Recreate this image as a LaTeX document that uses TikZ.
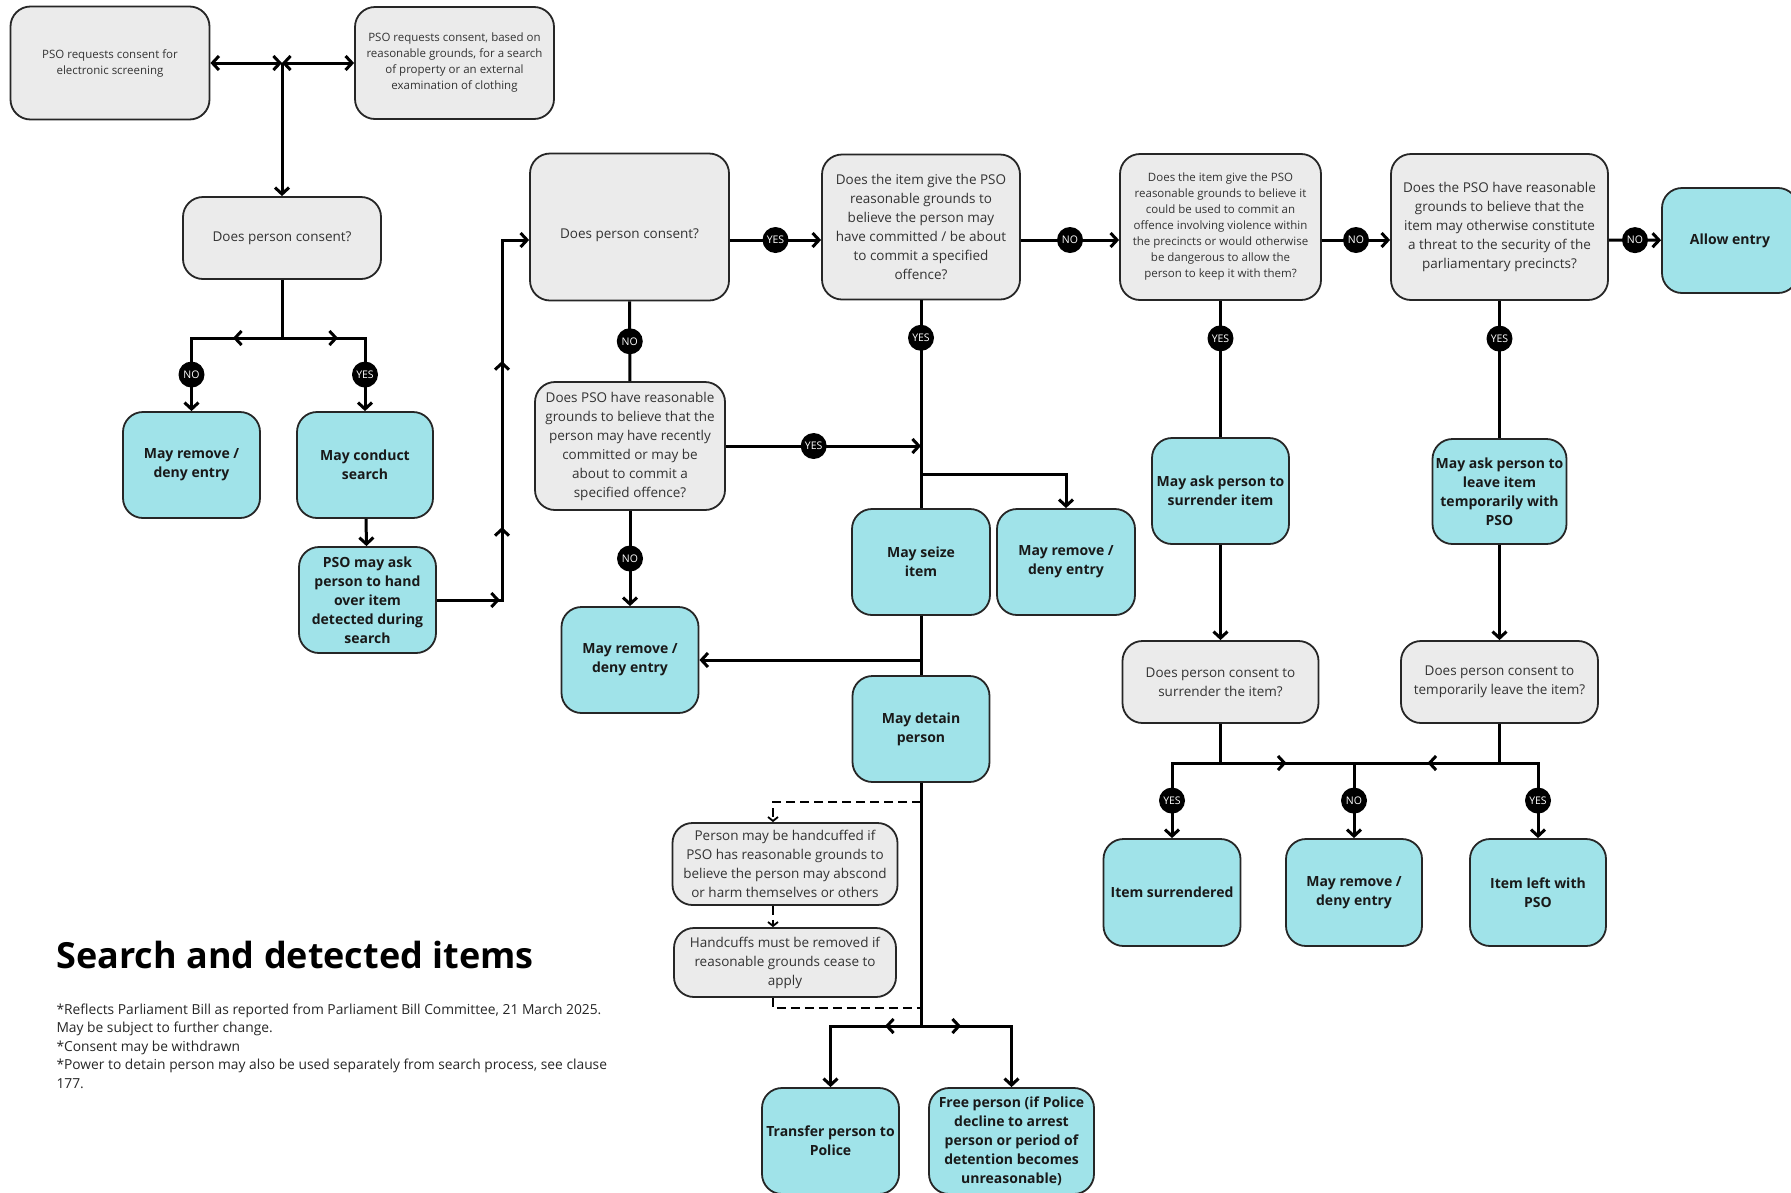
\documentclass[tikz,border=0pt]{standalone}
\usepackage{fontspec}
\setmainfont{Open Sans}
\usetikzlibrary{arrows.meta,decorations.markings}
\definecolor{actfill}{HTML}{A0E3E9}
\definecolor{askfill}{HTML}{EBEBEB}
\definecolor{boxline}{HTML}{262626}
\newcommand{\askfont}{\fontsize{13.5}{19}\selectfont}
\newcommand{\actfont}{\fontsize{14}{19}\selectfont\bfseries}
\newcommand{\smallask}{\fontsize{11.5}{16}\selectfont}
\newcommand{\notefont}{\fontsize{13.8}{18.5}\selectfont}

\begin{document}
\begin{tikzpicture}[x=1pt, y=-1pt,
  >={Straight Barb[length=6.5pt,width=14pt]},
  line width=3pt,
  ask/.style={draw=boxline, line width=1.8pt, fill=askfill, rounded corners=20pt,
    align=center, inner sep=2pt, font=\askfont, text=black!80},
  act/.style={ask, fill=actfill, font=\actfont, text=black!90},
  sz/.style 2 args={minimum width=#1pt, minimum height=#2pt},
  lbl/.style={circle, fill=black, text=white, inner sep=0pt, minimum size=26pt,
    font=\fontsize{10.5}{10.5}\selectfont},
  midtip/.style={postaction={decorate,
    decoration={markings, mark=at position #1 with {\arrow{>}}}}},
  cuffline/.style={line width=1.8pt, dash pattern=on 9pt off 5pt},
  cufftip/.style={-{Straight Barb[length=4pt,width=10pt]}}
  ]
  \useasboundingbox (0,0) rectangle (1791,1192);
  \fill[white] (0,0) rectangle (1791,1192);

  % requests and first consent
  \node[ask, sz={199}{113}, font=\smallask] (scr) at (110,63) {PSO requests consent for\\electronic screening};
  \node[ask, sz={199}{112}, font=\smallask] (req) at (454.5,63) {PSO requests consent, based on\\reasonable grounds, for a search\\of property or an external\\examination of clothing};
  \node[ask, sz={198}{82}] (cons1) at (282,238) {Does person consent?};
  \node[act, sz={137}{106}] (deny1) at (191.5,465) {May remove /\\deny entry};
  \node[act, sz={136}{106}] (search) at (365,465) {May conduct\\search};
  \node[act, sz={137}{106}] (handover) at (367.5,600) {PSO may ask\\person to hand\\over item\\detected during\\search};

  % top row of questions
  \node[ask, sz={199}{147}] (cons2) at (629.5,227) {\raisebox{-11pt}[0pt][0pt]{Does person consent?}};
  \node[ask, sz={198}{145}] (offq) at (921,227) {Does the item give the PSO\\reasonable grounds to\\believe the person may\\have committed / be about\\to commit a specified\\offence?};
  \node[ask, sz={201}{146}, font=\smallask] (violq) at (1220.5,227) {Does the item give the PSO\\reasonable grounds to believe it\\could be used to commit an\\offence involving violence within\\the precincts or would otherwise\\be dangerous to allow the\\person to keep it with them?};
  \node[ask, sz={217}{146}] (threatq) at (1499.5,227) {Does the PSO have reasonable\\grounds to believe that the\\item may otherwise constitute\\a threat to the security of the\\parliamentary precincts?};
  \node[act, sz={136}{105}] (allow) at (1730,240.5) {Allow entry};

  % offence branch
  \node[ask, sz={190}{128}] (recentq) at (630,446) {Does PSO have reasonable\\grounds to believe that the\\person may have recently\\committed or may be\\about to commit a\\specified offence?};
  \node[act, sz={138}{106}] (seize) at (921,562) {May seize\\item};
  \node[act, sz={138}{106}] (deny2) at (1066,562) {May remove /\\deny entry};
  \node[act, sz={137}{106}] (deny3) at (630,660) {May remove /\\deny entry};
  \node[act, sz={137}{106}] (detain) at (921,729) {May detain\\person};
  \node[ask, sz={225}{82}] (cuff) at (785,864) {Person may be handcuffed if\\PSO has reasonable grounds to\\believe the person may abscond\\or harm themselves or others};
  \node[ask, sz={222}{69}] (uncuff) at (785,962.5) {Handcuffs must be removed if\\reasonable grounds cease to\\apply};
  \node[act, sz={137}{106}] (police) at (830.5,1141) {Transfer person to\\Police};
  \node[act, sz={165}{106}] (free) at (1011.5,1141) {Free person (if Police\\decline to arrest\\person or period of\\detention becomes\\unreasonable)};

  % item branches
  \node[act, sz={137}{106}] (surrask) at (1220.5,491) {May ask person to\\surrender item};
  \node[act, sz={134}{105}] (leaveask) at (1499.5,491.5) {May ask person to\\leave item\\temporarily with\\PSO};
  \node[ask, sz={196}{82}] (surrq) at (1220.5,682) {Does person consent to\\surrender the item?};
  \node[ask, sz={197}{82}] (leaveq) at (1499.5,682) {Does person consent to\\temporarily leave the item?};
  \node[act, sz={137}{107}] (surrd) at (1172,892.5) {Item surrendered};
  \node[act, sz={136}{107}] (deny4) at (1354,892.5) {May remove /\\deny entry};
  \node[act, sz={136}{107}] (kept) at (1538,892.5) {Item left with\\PSO};

  % title and notes
  \node[anchor=base west, inner sep=0pt, font=\fontsize{36}{40}\selectfont\bfseries] (title) at (55,968) {Search and detected items};
  \node[anchor=north west, inner sep=0pt, align=left, font=\notefont, text=black!85] (notes) at (55,1002) {*Reflects Parliament Bill as reported from Parliament Bill Committee, 21 March 2025.\\May be subject to further change.\\*Consent may be withdrawn\\*Power to detain person may also be used separately from search process, see clause\\177.};

  % junctions
  \coordinate (top) at (282,63);
  \coordinate (split1) at (282,338);
  \coordinate (row) at (502,240);
  \coordinate (yesin) at (921,446);
  \coordinate (fork2) at (921,474);
  \coordinate (fork3) at (921,660);
  \coordinate (cuffout) at (921,802);
  \coordinate (cuffin) at (921,1008);
  \coordinate (fork4) at (921,1026);
  \coordinate (jsurr) at (1220.5,763);
  \coordinate (jleave) at (1499.5,763);

  % connectors
  \draw[<->] (scr) -- (top);
  \draw[<->] (top) -- (req);
  \draw[->] (top) -- (cons1);
  \draw (cons1) -- (split1);
  \draw[->, midtip=49pt] (split1) -| node[lbl, pos=0.75] (n1) {NO} (deny1);
  \draw[->, midtip=56pt] (split1) -| node[lbl, pos=0.75] (y1) {YES} (search);
  \path[->] (search) edge (handover);
  \draw[->, midtip=63pt, midtip=138pt, midtip=304pt] (handover) -| (row) -- (cons2.west |- row);

  \draw[->] (cons2.east |- row) -- node[lbl] (y2) {YES} (offq.west |- row);
  \draw[->] (offq.east |- row) -- node[lbl] (n2) {NO} (violq.west |- row);
  \draw[->] (violq.east |- row) -- node[lbl] (n3) {NO} (threatq.west |- row);
  \draw[->] (threatq.east |- row) -- node[lbl] (n4) {NO} (allow);

  \draw (cons2) -- node[lbl] (n5) {NO} (recentq);
  \draw[->] (recentq) -- node[lbl, pos=0.45] (y3) {YES} (yesin);
  \draw[->] (recentq) -- node[lbl] (n6) {NO} (deny3);
  \draw (offq) -- node[lbl, pos=0.18] (y4) {YES} (seize);
  \draw[->] (fork2) -| (deny2);
  \draw (seize) -- (detain);
  \draw[->] (fork3) -- (deny3);

  \draw[cuffline, cufftip] (cuffout) -| ([xshift=-12pt]cuff.north);
  \draw[cuffline, cufftip] ([xshift=-12pt]cuff.south) -- ([xshift=-12pt]uncuff.north);
  \draw[cuffline] ([xshift=-12pt]uncuff.south) |- (cuffin);
  \draw (detain) -- (fork4);
  \draw[->, midtip=36pt] (fork4) -| (police);
  \draw[->, midtip=40pt] (fork4) -| (free);

  \draw (violq) -- node[lbl, pos=0.275] (y5) {YES} (surrask);
  \draw (threatq) -- node[lbl, pos=0.275] (y6) {YES} (leaveask);
  \path[->] (surrask) edge (surrq)
            (leaveask) edge (leaveq);
  \draw (surrq) -- (jsurr);
  \draw (leaveq) -- (jleave);
  \draw[->] (jsurr) -| node[lbl, pos=0.75] (y7) {YES} (surrd);
  \draw[->, midtip=66pt] (jsurr) -| node[lbl, pos=0.75] (n7) {NO} (deny4);
  \draw[->] (jleave) -| node[lbl, pos=0.75] (y8) {YES} (kept);
  \draw[midtip=72pt] (jleave) -- (deny4.north |- jleave);
\end{tikzpicture}
\end{document}
